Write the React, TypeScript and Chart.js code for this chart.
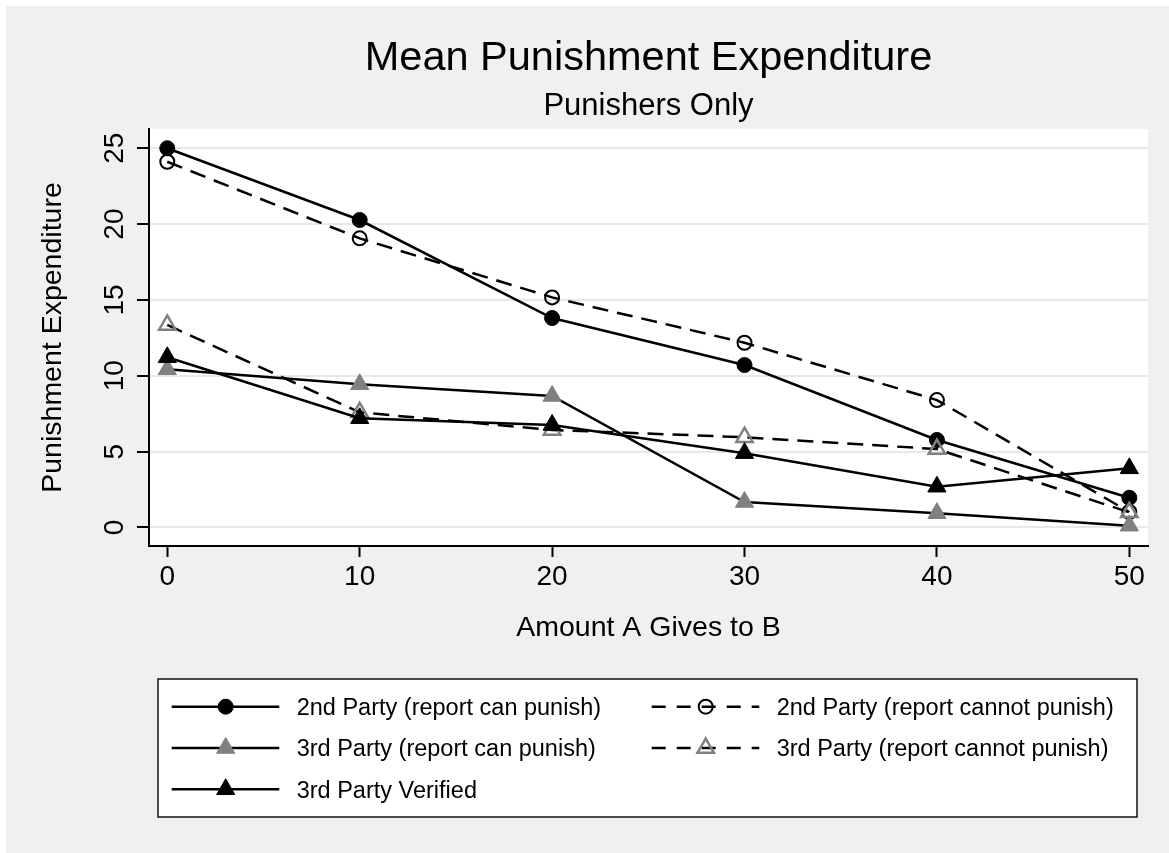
import React, { useEffect, useRef } from 'react';
import { Chart, registerables } from 'chart.js';

Chart.register(...registerables);

// ---------- data ----------
const xValues = [0, 10, 20, 30, 40, 50];
const secondCanPunish = [25.0, 20.27, 13.81, 10.71, 5.77, 1.96];
const secondCannotPunish = [24.11, 19.06, 15.17, 12.18, 8.4, 1.02];
const thirdCanPunish = [10.43, 9.44, 8.67, 1.68, 0.94, 0.12];
const thirdCannotPunish = [13.35, 7.59, 6.43, 5.95, 5.17, 1.0];
const thirdVerified = [11.22, 7.2, 6.76, 4.9, 2.69, 3.9];

const xTicks = [0, 10, 20, 30, 40, 50];
const yTicks = [0, 5, 10, 15, 20, 25];

const seriesLabels = [
  '2nd Party (report can punish)',
  '2nd Party (report cannot punish)',
  '3rd Party (report can punish)',
  '3rd Party (report cannot punish)',
  '3rd Party Verified',
];

const titleText = 'Mean Punishment Expenditure';
const subtitleText = 'Punishers Only';
const xTitle = 'Amount A Gives to B';
const yTitle = 'Punishment Expenditure';

// ---------- styles ----------
const W = 1169;
const H = 853;
const FONT = '"Liberation Sans", Arial, Helvetica, sans-serif';
const GRAY = '#808080';
const DASH = [16, 9];

type Style = {
  shape: 'circle' | 'triangle';
  fill: string;
  stroke: string;
  radius: number;
  bw: number;
  dash: number[];
};

const styles: Style[] = [
  { shape: 'circle', fill: '#000', stroke: '#000', radius: 7.5, bw: 1, dash: [] },
  { shape: 'circle', fill: 'rgba(0,0,0,0)', stroke: '#000', radius: 7, bw: 2, dash: DASH },
  { shape: 'triangle', fill: GRAY, stroke: GRAY, radius: 10.5, bw: 1, dash: [] },
  { shape: 'triangle', fill: 'rgba(0,0,0,0)', stroke: GRAY, radius: 9.5, bw: 2.5, dash: DASH },
  { shape: 'triangle', fill: '#000', stroke: '#000', radius: 10.5, bw: 1, dash: [] },
];

const seriesValues = [secondCanPunish, secondCannotPunish, thirdCanPunish, thirdCannotPunish, thirdVerified];

function drawMarker(ctx: CanvasRenderingContext2D, s: Style, x: number, y: number) {
  ctx.save();
  ctx.setLineDash([]);
  ctx.beginPath();
  if (s.shape === 'circle') {
    ctx.arc(x, y, s.radius, 0, Math.PI * 2);
  } else {
    let rad = 0;
    const r = s.radius;
    ctx.moveTo(x + Math.sin(rad) * r, y - Math.cos(rad) * r);
    rad += (2 * Math.PI) / 3;
    ctx.lineTo(x + Math.sin(rad) * r, y - Math.cos(rad) * r);
    rad += (2 * Math.PI) / 3;
    ctx.lineTo(x + Math.sin(rad) * r, y - Math.cos(rad) * r);
    ctx.closePath();
  }
  ctx.fillStyle = s.fill;
  ctx.fill();
  ctx.lineWidth = s.bw;
  ctx.strokeStyle = s.stroke;
  ctx.stroke();
  ctx.restore();
}

const decorPlugin = {
  id: 'stataDecor',
  beforeDraw(chart: any) {
    const ctx: CanvasRenderingContext2D = chart.ctx;
    const a = chart.chartArea;
    ctx.save();
    ctx.fillStyle = '#ffffff';
    ctx.fillRect(0, 0, W, H);
    ctx.fillStyle = '#f0f0f0';
    ctx.fillRect(6, 6, W, H);
    ctx.fillStyle = '#ffffff';
    ctx.fillRect(a.left, a.top, a.right - a.left, a.bottom - a.top);
    ctx.restore();
  },
  afterDraw(chart: any) {
    const ctx: CanvasRenderingContext2D = chart.ctx;
    const a = chart.chartArea;
    const cx = (a.left + a.right) / 2;
    const xs = chart.scales.x;
    const ys = chart.scales.y;
    ctx.save();
    ctx.fillStyle = '#000';
    ctx.textBaseline = 'alphabetic';

    // title & subtitle
    ctx.textAlign = 'center';
    ctx.font = `41.5px ${FONT}`;
    ctx.fillText(titleText, cx, 70);
    ctx.font = `31px ${FONT}`;
    ctx.fillText(subtitleText, cx, 115);

    // x tick labels
    ctx.font = `28px ${FONT}`;
    xTicks.forEach((v) => {
      ctx.fillText(String(v), xs.getPixelForValue(v), 585);
    });
    // y tick labels (rotated)
    yTicks.forEach((v) => {
      ctx.save();
      ctx.translate(122.5, ys.getPixelForValue(v));
      ctx.rotate(-Math.PI / 2);
      ctx.fillText(String(v), 0, 0);
      ctx.restore();
    });

    // axis titles
    ctx.font = `28.5px ${FONT}`;
    ctx.fillText(xTitle, cx, 636);
    ctx.save();
    ctx.translate(61, (a.top + a.bottom) / 2);
    ctx.rotate(-Math.PI / 2);
    ctx.fillText(yTitle, 0, 0);
    ctx.restore();

    // legend
    const lx = 158, ly = 679, lw = 979, lh = 138;
    ctx.fillStyle = '#ffffff';
    ctx.fillRect(lx, ly, lw, lh);
    ctx.lineWidth = 1.5;
    ctx.strokeStyle = '#111';
    ctx.strokeRect(lx, ly, lw, lh);

    ctx.font = `23.5px ${FONT}`;
    ctx.textAlign = 'left';
    seriesLabels.forEach((label, i) => {
      const col = i % 2;
      const row = Math.floor(i / 2);
      const x0 = 171.7 + col * 480;
      const yc = 706.7 + row * 41.3;
      const s = styles[i];
      ctx.save();
      ctx.strokeStyle = '#000';
      ctx.lineWidth = 2.5;
      ctx.setLineDash(s.dash.length ? [14, 11] : []);
      ctx.beginPath();
      ctx.moveTo(x0, yc);
      ctx.lineTo(x0 + 107.6, yc);
      ctx.stroke();
      ctx.restore();
      drawMarker(ctx, s, x0 + 54, yc);
      ctx.fillStyle = '#000';
      ctx.fillText(label, x0 + 125, yc + 8.4);
    });
    ctx.restore();
  },
};

export default function App() {
  const ref = useRef<HTMLCanvasElement>(null);

  useEffect(() => {
    document.body.style.margin = '0';
    const canvas = ref.current;
    if (!canvas) return;

    const datasets = seriesLabels.map((label, i) => {
      const s = styles[i];
      return {
        label,
        data: xValues.map((x, j) => ({ x, y: seriesValues[i][j] })),
        borderColor: '#000',
        borderWidth: 2.5,
        borderDash: s.dash,
        fill: false,
        tension: 0,
        pointStyle: s.shape,
        pointRadius: s.radius,
        pointBackgroundColor: s.fill,
        pointBorderColor: s.stroke,
        pointBorderWidth: s.bw,
        order: seriesLabels.length - i,
      };
    });

    const chart = new Chart(canvas, {
      type: 'line',
      data: { datasets },
      options: {
        animation: false,
        responsive: false,
        events: [],
        layout: {
          autoPadding: false,
          padding: { left: 0, right: 21, top: 129, bottom: 0 },
        },
        plugins: {
          legend: { display: false },
          title: { display: false },
          tooltip: { enabled: false },
        },
        scales: {
          x: {
            type: 'linear',
            position: 'bottom',
            min: -0.95,
            max: 50.97,
            afterBuildTicks: (s: any) => {
              s.ticks = xTicks.map((v) => ({ value: v }));
            },
            afterFit: (s: any) => {
              s.height = 307;
            },
            ticks: { display: false },
            grid: {
              drawOnChartArea: false,
              drawTicks: true,
              tickLength: 11,
              tickColor: '#000',
              tickWidth: 2,
            },
            border: { display: true, color: '#000', width: 2 },
          },
          y: {
            type: 'linear',
            position: 'left',
            min: -1.22,
            max: 26.27,
            afterBuildTicks: (s: any) => {
              s.ticks = yTicks.map((v) => ({ value: v }));
            },
            afterFit: (s: any) => {
              s.width = 149;
            },
            ticks: { display: false },
            grid: {
              color: '#e8e8e8',
              lineWidth: 2,
              drawTicks: true,
              tickLength: 12,
              tickColor: '#000',
              tickWidth: 2,
            },
            border: { display: true, color: '#000', width: 2 },
          },
        },
      },
      plugins: [decorPlugin],
    } as any);

    return () => chart.destroy();
  }, []);

  return (
    <div style={{ width: W, height: H }}>
      <canvas ref={ref} width={W} height={H} style={{ display: 'block', width: W, height: H }} />
    </div>
  );
}
